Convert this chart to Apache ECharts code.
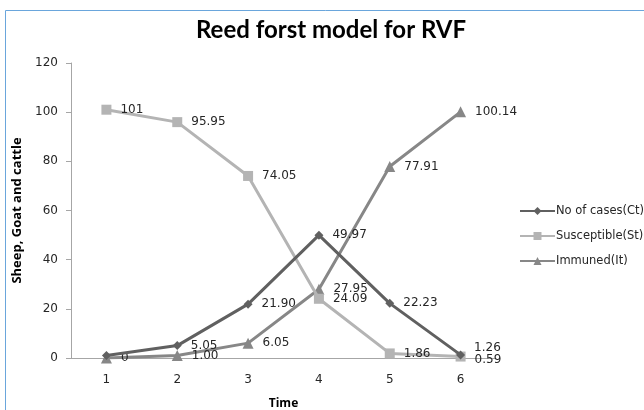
<!DOCTYPE html>
<html><head><meta charset="utf-8">
<script src="https://cdn.jsdelivr.net/npm/echarts@6/dist/echarts.min.js"></script>
<style>html,body{margin:0;padding:0;background:#fff}#c{width:644px;height:410px}</style>
</head><body><div id="c"></div>
<script>
var categories = ['1', '2', '3', '4', '5', '6'];
var casesCt = [1, 5.05, 21.90, 49.97, 22.23, 1.26];
var casesLabels = ['', '5.05', '21.90', '49.97', '22.23', '1.26'];
var susceptibleSt = [101, 95.95, 74.05, 24.09, 1.86, 0.59];
var susceptibleLabels = ['101', '95.95', '74.05', '24.09', '1.86', '0.59'];
var immunedIt = [0, 1.00, 6.05, 27.95, 77.91, 100.14];
var immunedLabels = ['0', '1.00', '6.05', '27.95', '77.91', '100.14'];
var yTicks = [0, 20, 40, 60, 80, 100, 120];

var labelFont = {fontFamily: 'DejaVu Sans', fontSize: 12, color: '#262626'};
function mkLabel(arr) {
  return Object.assign({show: true, position: 'right', distance: 9,
    formatter: function (p) { return arr[p.dataIndex]; }}, labelFont);
}
function shiftLast(dy) {
  return function (p) { return p.dataIndex === 5 ? {dy: dy} : {}; };
}
var chart = echarts.init(document.getElementById('c'), null, {renderer: 'canvas'});
chart.setOption({
  animation: false,
  backgroundColor: '#fff',
  title: {text: 'Reed forst model for RVF', left: 326, top: 13, textAlign: 'center',
    textStyle: {fontFamily: 'Lato', fontWeight: 'bold', fontSize: 24, color: '#000'}},
  graphic: [{type: 'rect', shape: {x: 5.5, y: 10.5, width: 700, height: 500},
    style: {fill: 'none', stroke: '#6aa6dc', lineWidth: 1}, silent: true, z: -1}],
  legend: {orient: 'vertical', left: 514, top: 200, itemGap: 13, itemWidth: 35, itemHeight: 10,
    textStyle: {fontFamily: 'DejaVu Sans', fontSize: 11.5, color: '#262626', padding: [0,0,0,-4]},
    data: ['No of cases(Ct)', 'Susceptible(St)', 'Immuned(It)']},
  grid: {left: 71, right: 148, top: 63, bottom: 52, outerBoundsMode: 'none', containLabel: false},
  xAxis: {type: 'category', data: categories, boundaryGap: true,
    name: 'Time', nameLocation: 'middle', nameGap: 40,
    nameTextStyle: {fontFamily: 'Open Sans', fontWeight: 'bold', fontSize: 12, color: '#000'},
    axisLine: {lineStyle: {color: '#a6a6a6', width: 1}},
    axisTick: {show: false},
    axisLabel: {fontFamily: 'DejaVu Sans', fontSize: 12, color: '#262626', margin: 16}},
  yAxis: {type: 'value', min: 0, max: 120, interval: 20,
    name: 'Sheep, Goat and cattle', nameLocation: 'middle', nameGap: 41, nameRotate: 90,
    nameTextStyle: {fontFamily: 'Open Sans', fontWeight: 'bold', fontSize: 13, color: '#000'},
    axisLine: {show: true, lineStyle: {color: '#a6a6a6', width: 1}},
    axisTick: {show: true, length: 5, lineStyle: {color: '#a6a6a6'}},
    splitLine: {show: false},
    axisLabel: {fontFamily: 'DejaVu Sans', fontSize: 12, color: '#262626', margin: 13,
      formatter: function (v) { return yTicks.indexOf(v) >= 0 ? String(v) : ''; }}},
  series: [
    {name: 'Immuned(It)', type: 'line', data: immunedIt, symbol: 'triangle', symbolSize: 11,
      itemStyle: {color: '#878787'}, lineStyle: {color: '#878787', width: 3}, label: mkLabel(immunedLabels), z: 3},
    {name: 'Susceptible(St)', type: 'line', data: susceptibleSt, symbol: 'rect', symbolSize: 10,
      itemStyle: {color: '#b4b4b4'}, lineStyle: {color: '#b4b4b4', width: 3}, label: mkLabel(susceptibleLabels),
      labelLayout: shiftLast(3), z: 4},
    {name: 'No of cases(Ct)', type: 'line', data: casesCt, symbol: 'diamond', symbolSize: 9,
      itemStyle: {color: '#606060'}, lineStyle: {color: '#606060', width: 3}, label: mkLabel(casesLabels),
      labelLayout: shiftLast(-7), z: 5}
  ]
});
</script></body></html>
